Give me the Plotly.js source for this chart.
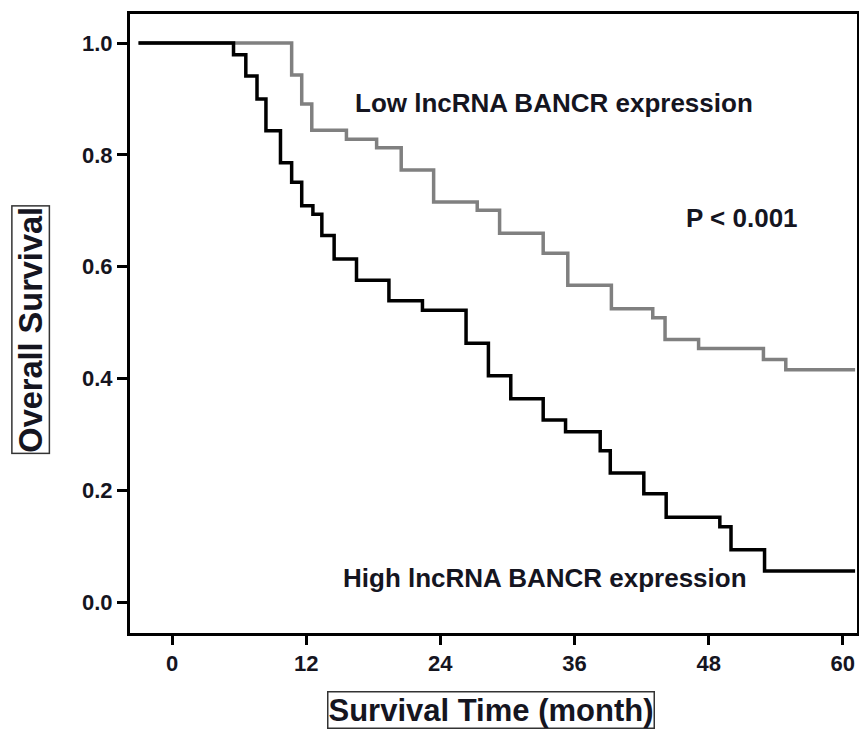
<!DOCTYPE html>
<html>
<head>
<meta charset="utf-8">
<script src="https://cdn.plot.ly/plotly-3.0.1.min.js"></script>
<style>html,body{margin:0;padding:0;background:#fff;}#chart{width:859px;height:732px;}</style>
</head>
<body>
<div id="chart"></div>
<script>
// Survival time (months) at each step and survival proportion after the step
var lowTimes  = [-3, 10.7, 11.6, 12.5, 15.6, 18.3, 20.5, 23.4, 27.3, 29.3, 33.2, 35.4, 39.3, 43.0, 44.1, 47.1, 52.9, 54.9, 61.1];
var lowSurv   = [1.0, 0.943, 0.891, 0.844, 0.828, 0.813, 0.773, 0.716, 0.701, 0.660, 0.624, 0.567, 0.525, 0.509, 0.470, 0.454, 0.434, 0.416, 0.416];
var highTimes = [-3, 5.5, 6.6, 7.6, 8.4, 9.7, 10.7, 11.6, 12.6, 13.4, 14.5, 16.5, 19.4, 22.4, 26.3, 28.3, 30.3, 33.2, 35.2, 38.3, 39.2, 42.2, 44.2, 49.0, 50.0, 53.0, 61.1];
var highSurv  = [1.0, 0.979, 0.941, 0.900, 0.843, 0.786, 0.751, 0.709, 0.694, 0.656, 0.614, 0.576, 0.539, 0.522, 0.463, 0.405, 0.364, 0.326, 0.305, 0.271, 0.231, 0.194, 0.152, 0.135, 0.094, 0.056, 0.056];
var xTicks = [0, 12, 24, 36, 48, 60];
var yTicks = [0.0, 0.2, 0.4, 0.6, 0.8, 1.0];
var yTickText = ["0.0", "0.2", "0.4", "0.6", "0.8", "1.0"];
var lowLabel = "Low lncRNA BANCR expression";
var highLabel = "High lncRNA BANCR expression";
var pLabel = "P < 0.001";
var xTitle = "Survival Time (month)";
var yTitle = "Overall Survival";

var FONT = "Liberation Sans, Arial, Helvetica, sans-serif";
var TXT = "#15151f";

var traces = [
  {x: lowTimes, y: lowSurv, type: "scatter", mode: "lines", line: {shape: "hv", color: "#808080", width: 3.5}, name: lowLabel, showlegend: false, hoverinfo: "skip"},
  {x: highTimes, y: highSurv, type: "scatter", mode: "lines", line: {shape: "hv", color: "#000000", width: 3.5}, name: highLabel, showlegend: false, hoverinfo: "skip"}
];

var layout = {
  width: 859, height: 732,
  margin: {l: 130, r: 2, t: 14, b: 99, pad: 0},
  paper_bgcolor: "#ffffff", plot_bgcolor: "#ffffff",
  showlegend: false,
  xaxis: {
    range: [-3.76, 61.27], tickvals: xTicks, ticktext: xTicks.map(String),
    showgrid: false, zeroline: false,
    showline: true, linecolor: "#000", linewidth: 3, mirror: true,
    ticks: "outside", ticklen: 9, tickwidth: 3, tickcolor: "#000",
    tickfont: {family: FONT, size: 22, color: TXT, weight: "bold"}
  },
  yaxis: {
    range: [-0.055, 1.052], tickvals: yTicks, ticktext: yTickText,
    showgrid: false, zeroline: false,
    showline: true, linecolor: "#000", linewidth: 3, mirror: true,
    ticks: "outside", ticklen: 10, tickwidth: 3, tickcolor: "#000",
    tickfont: {family: FONT, size: 22, color: TXT, weight: "bold"}
  },
  annotations: [
    {x: 34.2, y: 0.893, xref: "x", yref: "y", text: lowLabel, showarrow: false, xanchor: "center", yanchor: "middle",
     font: {family: FONT, size: 26, color: TXT, weight: "bold"}},
    {x: 51.0, y: 0.687, xref: "x", yref: "y", text: pLabel, showarrow: false, xanchor: "center", yanchor: "middle",
     font: {family: FONT, size: 26, color: TXT, weight: "bold"}},
    {x: 33.4, y: 0.043, xref: "x", yref: "y", text: highLabel, showarrow: false, xanchor: "center", yanchor: "middle",
     font: {family: FONT, size: 26, color: TXT, weight: "bold"}},
    {x: 0.4965, y: -0.124, xref: "paper", yref: "paper", text: xTitle, showarrow: false, xanchor: "center", yanchor: "middle",
     font: {family: FONT, size: 31, color: TXT, weight: "bold"}, bordercolor: "#333", borderwidth: 1.5, borderpad: 0, bgcolor: "#fff"},
    {x: -0.136, y: 0.4895, xref: "paper", yref: "paper", text: yTitle, showarrow: false, xanchor: "center", yanchor: "middle", textangle: -90,
     font: {family: FONT, size: 32.5, color: TXT, weight: "bold"}, bordercolor: "#333", borderwidth: 1.5, borderpad: 0, bgcolor: "#fff"}
  ]
};

Plotly.newPlot("chart", traces, layout, {displayModeBar: false, staticPlot: true});
</script>
</body>
</html>
